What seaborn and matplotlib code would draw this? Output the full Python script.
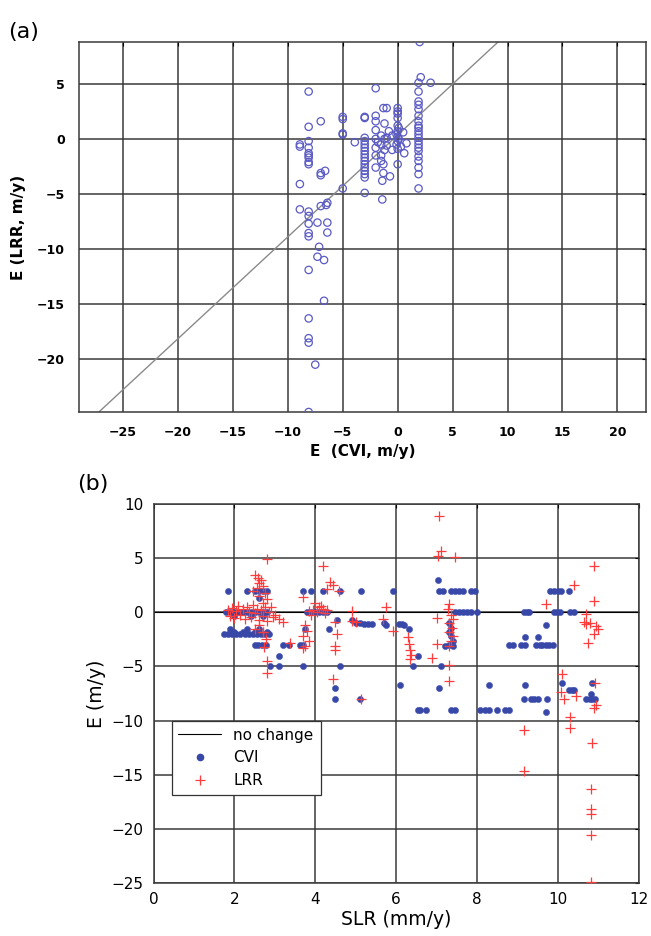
import numpy as np
import matplotlib
matplotlib.use("Agg")
import matplotlib.pyplot as plt
import seaborn as sns
from matplotlib.lines import Line2D

# ---------------- panel (a): E(CVI) vs E(LRR) ----------------
a_cvi = [2.0, 2.1, 1.9, 1.9, 1.9, 1.9, 1.9, 1.9, 1.9, 1.9, 1.9, 1.9, 1.9, 1.9, 1.9, 1.9,
         1.9, 1.9, 1.9, 1.9, 1.9, 1.9, 1.9, 3.0,
         0.0, 0.0, 0.0, 0.0, 0.0, 0.1, 0.0, -0.1, 0.0, 0.1, 0.0, -0.1, 0.0, 0.0,
         0.6, 0.5, 0.8, 0.3, -0.7, -0.5, -0.8, -0.5, -1.0,
         -1.3, -1.0, -1.4, -1.4, -1.3, -1.3, -1.5, -1.5, -1.5, -1.2, -1.5, -1.2, -1.2, -1.0,
         -2.0, -2.0, -2.0, -2.0, -2.0, -2.0, -2.0, -2.0, -1.8,
         -3.0, -3.0, -3.0, -3.0, -3.0, -3.0, -3.0, -3.0, -3.0, -3.0, -3.0, -3.0, -3.0, -3.0,
         -3.0, -3.0,
         -3.9, -5.0, -5.0, -5.0, -5.0, -5.0,
         -6.4, -6.5, -6.4, -6.4, -6.6, -6.7, -6.7,
         -7.0, -7.0, -7.0, -7.0, -7.3, -7.15, -7.3, -7.5,
         -8.1, -8.1, -8.1, -8.1, -8.1, -8.1, -8.1, -8.1, -8.1, -8.1, -8.1, -8.1, -8.1, -8.1,
         -8.1, -8.1, -8.1, -8.1, -8.1,
         -8.9, -8.9, -8.9, -8.9]
a_lrr = [8.8, 5.6, 5.1, 4.3, 3.4, 3.1, 2.7, 2.1, 1.6, 1.2, 1.0, 0.7, 0.4, 0.1, -0.2, -0.5,
         -0.8, -1.1, -1.6, -2.0, -2.6, -3.2, -4.5, 5.1,
         2.8, 2.5, 2.3, 1.9, 1.2, 1.0, 0.7, 0.4, 0.2, 0.0, -0.2, -0.5, -0.9, -2.3,
         -1.3, 0.6, -0.4, -0.7, -3.4, 0.3, 0.7, -1.0, 0.1,
         2.8, 2.8, -5.5, -3.8, -3.1, -2.3, -1.5, -0.5, 0.3, 1.4, -2.0, -1.0, 0.0, -0.6,
         4.6, 2.1, 1.6, 0.8, 0.0, -0.8, -1.5, -2.6, -0.3,
         2.0, 1.9, 0.1, -0.2, -0.5, -0.8, -1.1, -1.4, -1.7, -2.0, -2.3, -2.6, -2.9, -3.2,
         -3.5, -4.9,
         -0.3, 2.0, 1.8, 0.5, 0.4, -4.5,
         -5.8, -6.0, -7.6, -8.5, -2.9, -11.0, -14.7,
         1.6, -3.1, -6.1, -3.3, -7.6, -9.8, -10.7, -20.5,
         4.3, 1.1, -0.2, -0.8, -1.3, -1.5, -1.7, -2.1, -2.3, -6.6, -7.0, -7.7, -8.55, -8.85,
         -11.9, -16.3, -18.1, -18.5, -24.8,
         -0.5, -0.7, -4.1, -6.4]
fit_slope = 0.925
fit_intercept = 0.35

a_xticks = [-25, -20, -15, -10, -5, 0, 5, 10, 15, 20]
a_yticks = [-20, -15, -10, -5, 0, 5]

# ---------------- panel (b): E vs SLR ----------------
cvi_slr = [1.85, 2.3, 2.5, 2.6, 2.7, 2.8, 3.7, 3.9, 4.2, 4.6, 5.13, 5.92, 7.05, 7.15, 7.35,
           7.45, 7.55, 7.65, 7.85, 7.95, 9.82, 9.9, 10.0, 10.07, 10.27,
           7.03, 2.6,
           1.8, 1.9, 2.0, 2.1, 2.2, 2.3, 2.4, 2.5, 2.6, 2.7, 2.8, 3.8, 3.9, 4.0, 4.1, 4.2, 4.3,
           7.45, 7.55, 7.65, 7.75, 7.85, 8.0, 9.16, 9.24, 9.3, 9.9, 9.98, 10.05, 10.3, 10.4,
           2.0, 2.4, 2.7, 4.55, 4.9,
           5.0, 5.1, 5.2, 5.3, 5.4, 5.7, 6.08, 6.15, 5.75, 6.2, 3.75, 6.33, 4.35, 9.7,
           1.9, 2.3, 2.6,
           1.75, 1.85, 1.95, 2.05, 2.15, 2.25, 2.35, 2.45, 2.55, 2.65, 2.75, 2.85,
           2.0, 2.2, 2.5, 2.8,
           7.3, 7.35, 7.3, 7.35, 7.4, 7.3, 7.2, 7.4,
           2.5, 2.58, 2.68, 2.78, 3.2, 3.35, 3.63, 3.7, 8.8, 8.88, 9.1, 9.2, 9.45, 9.55, 9.62,
           9.7, 9.78, 9.88,
           9.2, 9.5, 3.1, 6.54,
           2.88, 3.1, 3.7, 4.6, 6.41, 7.12,
           6.1, 8.31, 9.2, 10.1, 10.85,
           4.5, 7.05, 10.27, 10.35, 10.4,
           4.5, 5.1, 9.16, 9.33, 9.41, 9.5, 9.74, 10.7, 10.8, 10.85, 10.93, 10.83,
           6.54, 6.6, 6.75, 7.36, 7.45, 8.07, 8.2, 8.3, 8.5, 8.7, 8.8, 9.7]
cvi_e = [2, 2, 2, 2, 2, 2, 2, 2, 2, 2, 2, 2, 2, 2, 2,
         2, 2, 2, 2, 2, 2, 2, 2, 2, 2,
         3.0, 1.3,
         0, 0, 0, 0, 0, 0, 0, 0, 0, 0, 0, 0, 0, 0, 0, 0, 0,
         0, 0, 0, 0, 0, 0, 0, 0, 0, 0, 0, 0, 0, 0,
         -0.3, -0.3, -0.3, -0.7, -0.7,
         -1.0, -1.0, -1.1, -1.1, -1.1, -1.0, -1.1, -1.1, -1.2, -1.2, -1.5, -1.5, -1.5, -1.14,
         -1.5, -1.5, -1.5,
         -2, -2, -2, -2, -2, -2, -2, -2, -2, -2, -2, -2,
         -1.8, -1.8, -1.8, -1.8,
         -1.0, -1.4, -1.8, -2.2, -2.6, -3.0, -3.1, -3.1,
         -3, -3, -3, -3, -3, -3, -3, -3, -3, -3, -3, -3, -3, -3, -3,
         -3, -3, -3,
         -2.3, -2.3, -4.0, -4.0,
         -5, -5, -5, -5, -5, -5,
         -6.7, -6.7, -6.7, -6.5, -6.5,
         -7.0, -7.0, -7.2, -7.2, -7.2,
         -8, -8, -8, -8, -8, -8, -8, -8, -8, -8, -8, -7.5,
         -9, -9, -9, -9, -9, -9, -9, -9, -9, -9, -9, -9.2]

lrr_slr = [7.05, 7.1, 7.03, 7.45, 2.8, 4.18, 10.9,
           2.5, 2.58, 2.66, 2.62, 2.7, 2.55, 2.75, 2.45, 2.6, 2.8, 2.7,
           4.37, 4.45, 4.58, 4.3, 3.7, 10.4, 9.7, 10.9, 5.75, 4.9, 7.3,
           4.0, 4.1, 3.95, 4.05, 3.9, 4.2, 4.25, 4.15, 3.85, 4.3,
           1.85, 1.9, 1.95, 2.0, 2.05, 2.1, 2.15, 2.2, 2.25, 2.3, 2.35, 2.4, 2.45, 2.5, 2.55,
           2.6, 2.65, 2.7, 2.75, 2.8, 2.85, 2.6, 2.5, 2.7,
           2.9, 3.0, 3.1, 3.2, 2.95,
           4.9, 5.0, 4.5, 4.55, 4.5, 4.5,
           3.75, 3.8, 3.7, 3.85, 3.75, 3.7,
           2.7, 2.77, 2.72, 2.8, 2.8, 3.38, 4.45, 5.13,
           5.67, 5.92, 7.0,
           7.28, 7.35, 7.4, 7.32, 7.38, 7.3, 7.4, 7.35, 7.3,
           6.3, 6.32, 6.35, 6.38, 6.35, 7.0, 6.9, 7.3, 7.3,
           10.7, 10.65, 10.7, 10.8, 10.95, 11.0, 10.9, 10.75,
           10.1, 10.07, 10.15, 10.44, 10.93, 10.9, 10.95,
           9.16, 10.3, 10.3, 10.85, 9.16, 10.83, 10.83, 10.83, 10.83, 10.83]
lrr_e = [8.95, 5.7, 5.2, 5.1, 4.9, 4.3, 4.3,
         3.5, 3.2, 3.0, 2.7, 2.4, 2.3, 1.8, 2.0, 1.5, 1.2, 0.9,
         2.8, 2.5, 2.0, 2.2, 1.4, 2.5, 0.8, 1.1, 0.46, 0.15, 0.8,
         0.9, 0.5, 0.2, 0.0, -0.2, 0.3, -0.1, 0.6, 0.1, 0.2,
         0.2, -0.3, 0.4, -0.5, 0.1, 0.6, -0.2, 0.3, -0.6, 0.5, 0.0, -0.4, 0.7, -0.1, 0.3,
         -0.7, 0.2, -0.3, 0.5, -0.8, 0.0, -1.2, -1.5, -1.8,
         0.5, -0.2, -0.6, -0.9, -0.4,
         -0.8, -0.9, -0.9, -2.0, -3.1, -3.5,
         -1.2, -1.7, -2.2, -2.6, -3.1, -3.3,
         -1.85, -2.5, -3.2, -4.5, -5.6, -2.8, -6.2, -8.0,
         -0.6, -1.7, -0.5,
         0.3, -0.2, -0.6, -1.0, -1.4, -1.8, -2.2, -2.6, -3.1,
         -2.3, -2.9, -3.5, -3.9, -4.3, -2.9, -4.2, -4.9, -6.3,
         -0.15, -0.9, -1.1, -1.0, -1.3, -1.5, -2.0, -2.8,
         -5.7, -7.4, -8.0, -7.7, -6.5, -8.8, -8.6,
         -10.9, -9.7, -10.7, -12.1, -14.7, -16.3, -18.2, -18.6, -20.6, -24.97]

b_xticks = [0, 2, 4, 6, 8, 10, 12]
b_yticks = [-25, -20, -15, -10, -5, 0, 5, 10]

# colours
circle_blue = "#5a5ac4"
dot_blue = "#3848a8"
plus_red = "#ff3c3c"
grid_col = "#3a3a3a"

sns.set_style("white")
plt.rcParams["font.family"] = ["DejaVu Sans"]
plt.rcParams["text.color"] = "black"
plt.rcParams["axes.labelcolor"] = "black"
plt.rcParams["xtick.color"] = "black"
plt.rcParams["ytick.color"] = "black"

fig = plt.figure(figsize=(6.51, 9.36), dpi=100)

# ---------- (a) ----------
ax1 = fig.add_axes([79 / 651, 1 - 412 / 936, 567 / 651, 370 / 936])
sns.scatterplot(x=a_cvi, y=a_lrr, ax=ax1, marker="o", s=28,
                facecolors="none", edgecolors=circle_blue, linewidth=0.9, zorder=3)
xx = np.array([-29.0, 22.6])
ax1.plot(xx, fit_slope * xx + fit_intercept, color="#8a8a8a", lw=1.0, zorder=2)
ax1.set_xlim(-29, 22.6)
ax1.set_ylim(-24.8, 8.8)
ax1.set_xticks(a_xticks)
ax1.set_yticks(a_yticks)
ax1.grid(True, color=grid_col, lw=1.1)
ax1.tick_params(direction="in", length=3, top=True, right=True, pad=10, labelsize=9)
for lab in ax1.get_xticklabels() + ax1.get_yticklabels():
    lab.set_fontweight("bold")
ax1.set_xlabel("E  (CVI, m/y)", fontsize=11, fontweight="bold", labelpad=4)
ax1.set_ylabel("E (LRR, m/y)", fontsize=11, fontweight="bold", labelpad=8)
for sp in ax1.spines.values():
    sp.set_color(grid_col)
    sp.set_linewidth(1.1)
fig.text(8 / 651, 1 - 38 / 936, "(a)", fontsize=16)

# ---------- (b) ----------
ax2 = fig.add_axes([153.6 / 651, 1 - 882.7 / 936, 485 / 651, 378.4 / 936])
nochange = ax2.axhline(0, color="k", lw=0.8, zorder=2)
sns.scatterplot(x=cvi_slr, y=cvi_e, ax=ax2, marker="o", s=20, color=dot_blue,
                edgecolor=dot_blue, linewidth=0.3, zorder=3)
sns.scatterplot(x=lrr_slr, y=lrr_e, ax=ax2, marker="+", s=55, color=plus_red,
                linewidth=0.9, zorder=4)
ax2.set_xlim(0, 12)
ax2.set_ylim(-25, 10)
ax2.set_xticks(b_xticks)
ax2.set_yticks(b_yticks)
ax2.grid(True, color=grid_col, lw=1.1)
ax2.tick_params(direction="in", length=3, top=True, right=True, pad=7, labelsize=11)
ax2.set_xlabel("SLR (mm/y)", fontsize=13.5, labelpad=2)
ax2.set_ylabel("E (m/y)", fontsize=13.5, labelpad=4)
for sp in ax2.spines.values():
    sp.set_color(grid_col)
    sp.set_linewidth(1.1)

handles = [
    Line2D([], [], color="k", lw=0.8),
    Line2D([], [], marker="o", ls="none", color=dot_blue, markersize=4.5),
    Line2D([], [], marker="+", ls="none", color=plus_red, markersize=7.5, mew=0.9),
]
leg = ax2.legend(handles, ["no change", "CVI", "LRR"], loc="lower left",
                 bbox_to_anchor=(0.037, 0.232), borderaxespad=0, fontsize=11,
                 frameon=True, fancybox=False, framealpha=1, edgecolor="#333333",
                 handlelength=2.8, labelspacing=0.5, borderpad=0.45)
leg.get_frame().set_linewidth(0.9)
fig.text(77 / 651, 1 - 490 / 936, "(b)", fontsize=16)

fig.savefig("out.png", dpi=100)
